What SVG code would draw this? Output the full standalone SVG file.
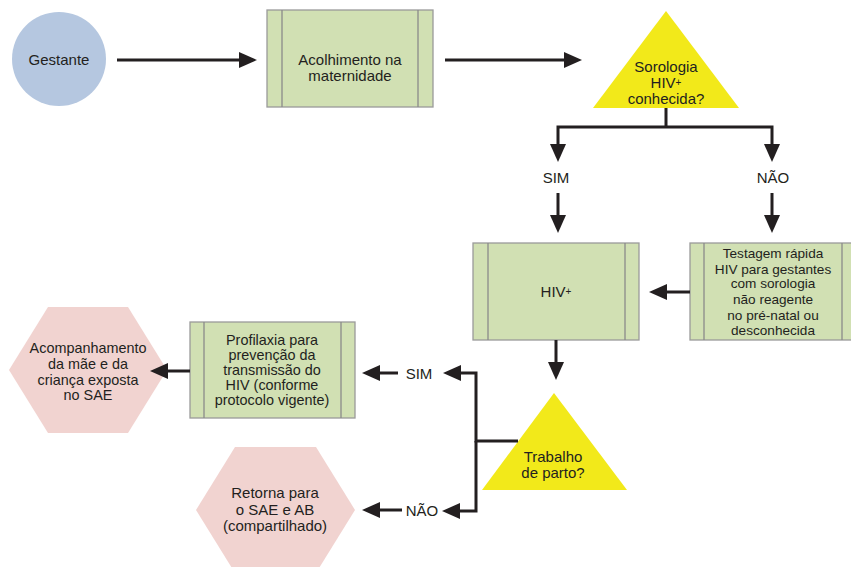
<svg xmlns="http://www.w3.org/2000/svg" width="851" height="567" viewBox="0 0 851 567">
<style>
text{font-family:"Liberation Sans",Arial,sans-serif;font-size:15px;fill:#231f20;text-anchor:middle}
.narrow{font-size:13.6px}
.ml{font-size:14.4px}
.box{fill:#d1e0b3;stroke:#9a9a9a;stroke-width:1.3}
.inner{stroke:#8a8a8a;stroke-width:1.3}
.tri{fill:#f2e91a}
.hex{fill:#f1d3d0}
.circ{fill:#b5c7e0}
.con{fill:none;stroke:#231f20;stroke-width:3;marker-end:url(#ah)}
.plain{fill:none;stroke:#231f20;stroke-width:3}
</style>
<defs>
<marker id="ah" markerUnits="userSpaceOnUse" markerWidth="18" markerHeight="16" refX="8" refY="8" orient="auto">
<path d="M0,0 L18,8 L0,16 z" fill="#231f20"/>
</marker>
</defs>
<rect width="851" height="567" fill="#fff"/>
<g id="gestante">
<circle class="circ" cx="59" cy="59" r="47"/>
<text x="59" y="65">Gestante</text>
</g>
<g id="acolhimento">
<rect class="box" x="267" y="10" width="166" height="97"/>
<line class="inner" x1="282" y1="10" x2="282" y2="107"/>
<line class="inner" x1="418" y1="10" x2="418" y2="107"/>
<text x="350" y="65">Acolhimento na</text>
<text x="350" y="81">maternidade</text>
</g>
<g id="sorologia">
<polygon class="tri" points="666,11 739,108 593,108"/>
<text x="666" y="72">Sorologia</text>
<text x="666" y="88">HIV<tspan font-size="10" dy="-2">+</tspan></text>
<text x="666" y="104">conhecida?</text>
</g>
<g id="hivpos">
<rect class="box" x="473" y="243" width="166" height="97"/>
<line class="inner" x1="488" y1="243" x2="488" y2="340"/>
<line class="inner" x1="625" y1="243" x2="625" y2="340"/>
<text x="556" y="297">HIV<tspan font-size="10" dy="-2">+</tspan></text>
</g>
<g id="testagem">
<rect class="box" x="690" y="243" width="166" height="97"/>
<line class="inner" x1="704" y1="243" x2="704" y2="340"/>
<line class="inner" x1="842" y1="243" x2="842" y2="340"/>
<text class="narrow" x="773" y="258">Testagem rápida</text>
<text class="narrow" x="773" y="274">HIV para gestantes</text>
<text class="narrow" x="773" y="288">com sorologia</text>
<text class="narrow" x="773" y="304">não reagente</text>
<text class="narrow" x="773" y="320">no pré-natal ou</text>
<text class="narrow" x="773" y="335">desconhecida</text>
</g>
<g id="trabalho">
<polygon class="tri" points="554,393 627,490 482,490"/>
<text x="553" y="462">Trabalho</text>
<text x="553" y="478">de parto?</text>
</g>
<g id="profilaxia">
<rect class="box" x="190" y="322" width="165" height="96"/>
<line class="inner" x1="204" y1="322" x2="204" y2="418"/>
<line class="inner" x1="341" y1="322" x2="341" y2="418"/>
<text class="ml" x="272" y="345">Profilaxia para</text>
<text class="ml" x="272" y="360">prevenção da</text>
<text class="ml" x="272" y="375">transmissão do</text>
<text class="ml" x="272" y="390">HIV (conforme</text>
<text class="ml" x="272" y="405">protocolo vigente)</text>
</g>
<g id="acompanhamento">
<polygon class="hex" points="9,370 48,307 128,307 167,370 128,433 48,433"/>
<text class="ml" x="88" y="353">Acompanhamento</text>
<text class="ml" x="88" y="369">da mãe e da</text>
<text class="ml" x="88" y="385">criança exposta</text>
<text class="ml" x="88" y="400">no SAE</text>
</g>
<g id="retorna">
<polygon class="hex" points="196,510 235,447 316,447 355,510 316,573 235,573"/>
<text x="275" y="498">Retorna para</text>
<text x="275" y="515">o SAE e AB</text>
<text x="275" y="531">(compartilhado)</text>
</g>
<g id="connectors">
<path class="con" d="M117,60 H247"/>
<path class="con" d="M445,60 H572"/>
<path class="plain" d="M666,108 V127"/>
<path class="con" d="M666,127 H558 V152"/>
<path class="con" d="M666,127 H772 V152"/>
<path class="con" d="M558,193 V223"/>
<path class="con" d="M772,193 V223"/>
<path class="con" d="M690,292 H659"/>
<path class="con" d="M556,340 V370"/>
<path class="con" d="M518,441 H476 V373 H453"/>
<path class="con" d="M476,441 V511 H452"/>
<path class="con" d="M398,373 H372"/>
<path class="con" d="M402,510 H372"/>
<path class="con" d="M190,371 H160"/>
<text x="556" y="183">SIM</text>
<text x="773" y="183">NÃO</text>
<text x="419" y="379">SIM</text>
<text x="422" y="516">NÃO</text>
</g>
</svg>
